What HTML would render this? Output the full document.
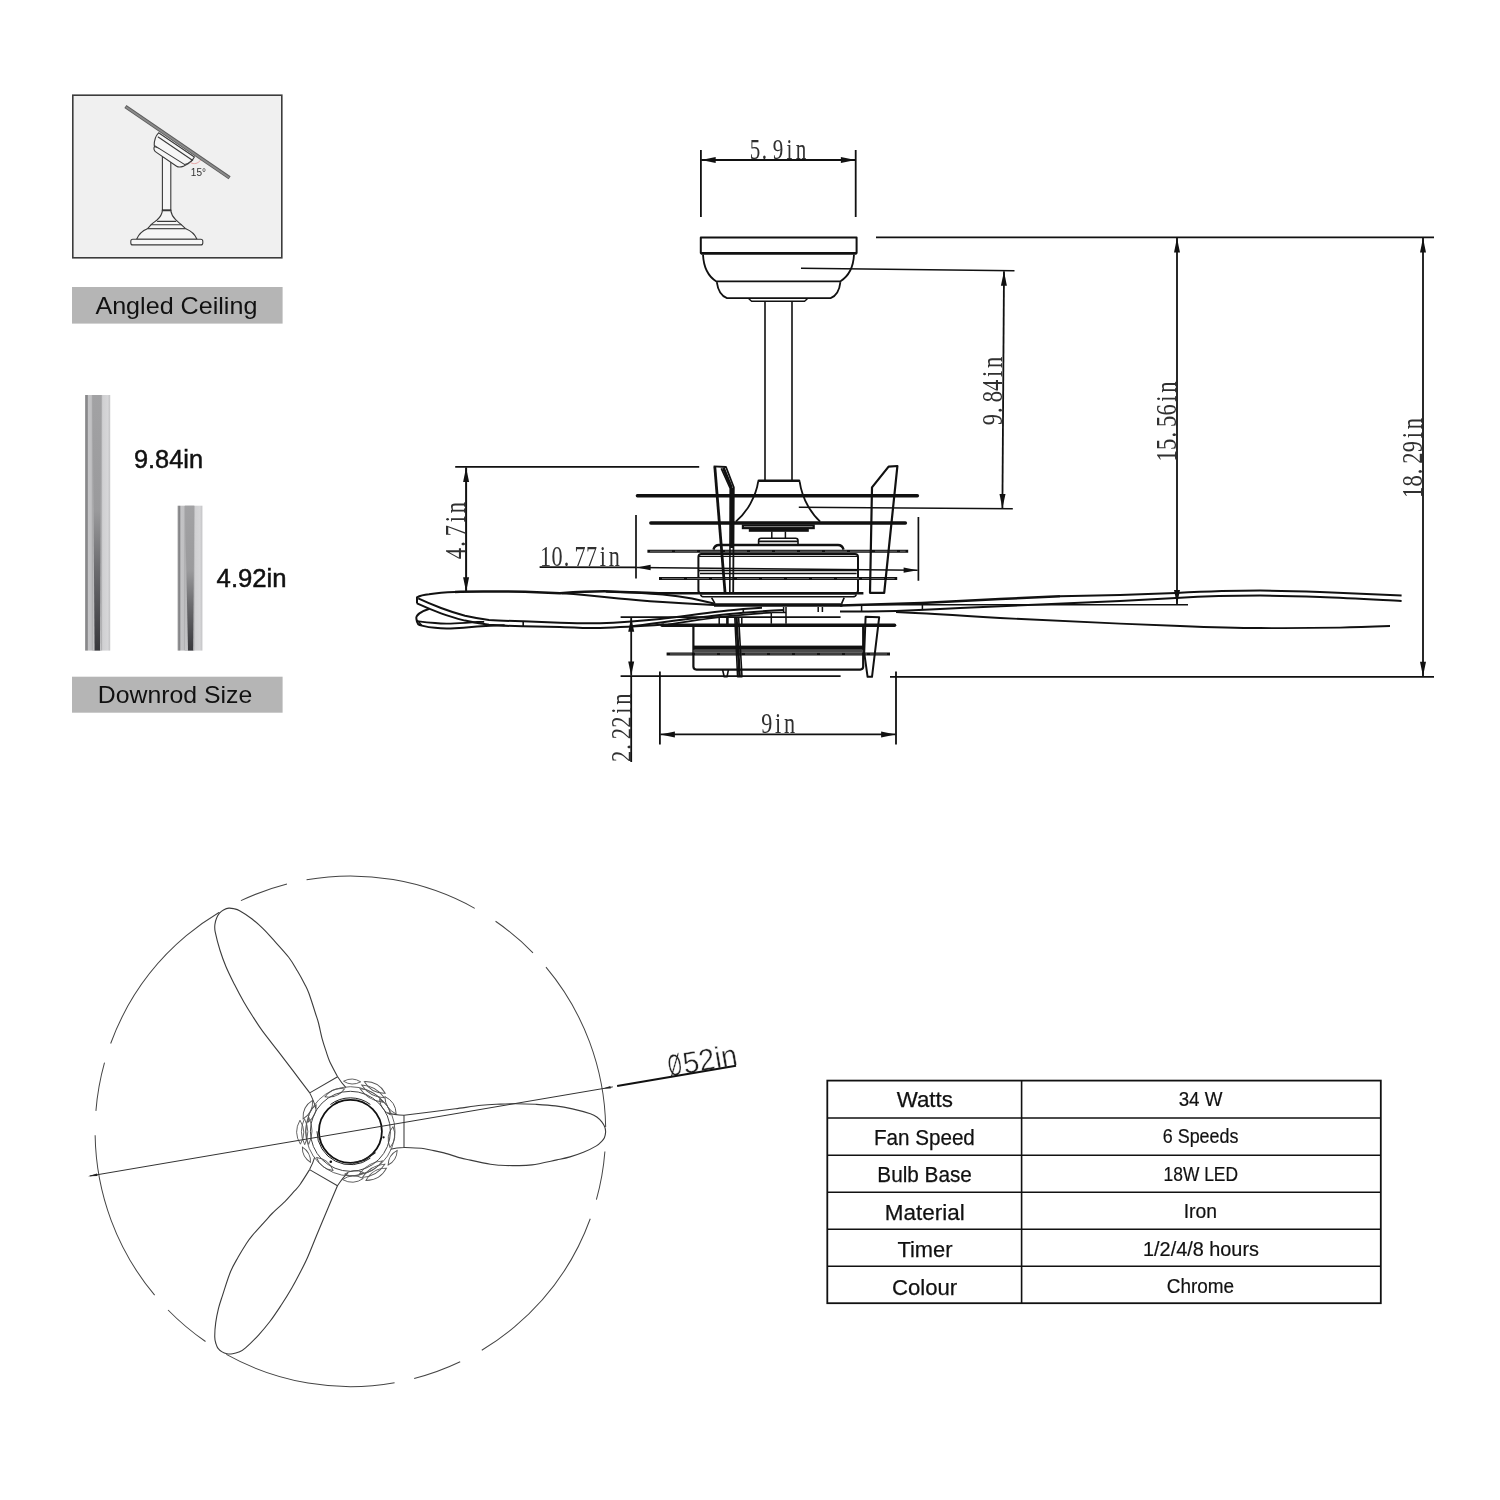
<!DOCTYPE html>
<html>
<head>
<meta charset="utf-8">
<title>Ceiling fan dimensions</title>
<style>
html,body{margin:0;padding:0;background:#fff;}
body{width:1500px;height:1500px;overflow:hidden;font-family:"Liberation Sans",sans-serif;}
svg{display:block;position:absolute;left:0;top:0;will-change:transform;}
.k{stroke:#111;fill:none;stroke-linecap:butt;stroke-linejoin:round;}
.w{stroke:#111;fill:#fff;stroke-linecap:butt;stroke-linejoin:round;}
.cad{font-family:"Liberation Serif",serif;fill:#303030;}
.ui{font-family:"Liberation Sans",sans-serif;fill:#111;}
</style>
</head>
<body>
<svg width="1500" height="1500" viewBox="0 0 1500 1500">
<defs>
<linearGradient id="rod" x1="0" x2="1" y1="0" y2="0">
<stop offset="0" stop-color="#a2a2a3"/>
<stop offset="0.05" stop-color="#8a8a8c"/>
<stop offset="0.09" stop-color="#848486"/>
<stop offset="0.13" stop-color="#c4c4c6"/>
<stop offset="0.25" stop-color="#c0c0c2"/>
<stop offset="0.30" stop-color="#a6a6a8"/>
<stop offset="0.64" stop-color="#a2a2a4"/>
<stop offset="0.70" stop-color="#d0d0d2"/>
<stop offset="0.90" stop-color="#d6d6d8"/>
<stop offset="1" stop-color="#c3c3c5"/>
</linearGradient>
<linearGradient id="rodw" x1="0" x2="0" y1="0" y2="1">
<stop offset="0" stop-color="#a2a2a4"/>
<stop offset="0.45" stop-color="#9a9a9c"/>
<stop offset="0.68" stop-color="#6c6c6f"/>
<stop offset="1" stop-color="#38383c"/>
</linearGradient>
<linearGradient id="rodl" x1="0" x2="0" y1="0" y2="1">
<stop offset="0" stop-color="#a4a4a6" stop-opacity="0"/>
<stop offset="0.45" stop-color="#bcbcbe" stop-opacity="0.6"/>
<stop offset="1" stop-color="#c4c4c6" stop-opacity="1"/>
</linearGradient>
</defs>
<!-- ===== LEFT PANEL ===== -->
<g id="left-panel">
<rect x="72.8" y="95.2" width="209" height="162.6" fill="#f0f0f0" stroke="#3c3c3c" stroke-width="1.6"/>
<rect x="72" y="287" width="210.6" height="36.6" fill="#b5b5b5"/>
<text class="ui" x="176.4" y="314.4" font-size="24.5" text-anchor="middle" textLength="162" lengthAdjust="spacingAndGlyphs">Angled Ceiling</text>
<rect x="85" y="395" width="25.2" height="255.6" fill="url(#rod)"/>
<rect x="92.6" y="395" width="8.6" height="255.6" fill="url(#rodl)"/>
<polygon points="92.6,395 101.2,395 100,650.6 94.6,650.6" fill="url(#rodw)"/>
<rect x="177.6" y="505.7" width="24.8" height="144.9" fill="url(#rod)"/>
<rect x="185" y="505.7" width="9.3" height="144.9" fill="url(#rodl)"/>
<polygon points="185,505.7 194.3,505.7 193.2,650.6 188,650.6" fill="url(#rodw)"/>
<text class="ui" x="134" y="467.7" font-size="25.5" textLength="69" lengthAdjust="spacingAndGlyphs" stroke="#111" stroke-width="0.5">9.84in</text>
<text class="ui" x="216.6" y="587" font-size="25.5" textLength="70" lengthAdjust="spacingAndGlyphs" stroke="#111" stroke-width="0.5">4.92in</text>
<rect x="72" y="676.7" width="210.6" height="36" fill="#b5b5b5"/>
<text class="ui" x="175" y="703.4" font-size="24.5" text-anchor="middle" textLength="154.5" lengthAdjust="spacingAndGlyphs">Downrod Size</text>
</g>
<!-- ===== ANGLED CEILING ILLUSTRATION ===== -->
<g id="angled" fill="#f6f6f6" stroke="#3a3a3a" stroke-width="1.1" stroke-linejoin="round" stroke-linecap="round">
<!-- rod -->
<path d="M162.4 156V210.2H170.8V161.6Z"/>
<!-- canopy lower cup -->
<path d="M154.4 146.4C153.4 148.6 153.6 150.4 156.4 152.4L176.6 166.2C178.4 167.4 180.4 167.2 183 166.4C187 165 190.4 162.6 192.8 160Z"/>
<!-- canopy upper body -->
<path d="M158.6 132.8C155.8 135.6 154.2 140 154.2 145.4L184.8 164.6C188.6 163.4 192.4 160.6 194.4 157Z"/>
<path fill="none" d="M158.2 137L192 160"/>
<!-- ceiling bar -->
<path fill="none" stroke="#5c5c5c" stroke-width="3.6" stroke-linecap="butt" d="M125.4 106.6L229.6 177.8"/>
<path fill="none" stroke="#8a8a8a" stroke-width="1.8" stroke-linecap="butt" d="M126 107L229 177.4"/>
<!-- angle arc + label -->
<path fill="none" stroke="#e8a3a3" stroke-width="1" d="M191 162.8C194 164.6 198 163.6 200.4 160.4"/>
<!-- motor bell -->
<path stroke="#222" stroke-width="1.4" fill="none" d="M162.4 210.2H170.8"/>
<path d="M162.4 210.6C162 214 160 217.4 157 220C155 221.6 153.4 222.6 151.4 224.4L147.4 228.8H185.8L181 224.4C179 222.6 177.4 221.4 175.6 219.6C173 217 171.2 213.6 170.8 210.6Z"/>
<path fill="none" d="M157.6 221.4H175.8M151.2 224.8H181.2"/>
<path d="M147.4 228.8C142 231 138.6 234.6 136.6 239.2H197C195 234.6 191.4 231 185.8 228.8Z"/>
<rect x="130.8" y="239.3" width="72" height="5.6" rx="2"/>
</g>
<text x="190.8" y="176.2" font-family="Liberation Sans, sans-serif" font-size="10.6" fill="#333" textLength="15.2" lengthAdjust="spacingAndGlyphs">15°</text>
<!-- ===== SPEC TABLE ===== -->
<g id="table">
<rect x="827.3" y="1080.6" width="553.5" height="222.6" fill="#fff" stroke="#111" stroke-width="1.8"/>
<path class="k" stroke-width="1.6" d="M1021.6 1080.6V1303.2M827.3 1118H1380.8M827.3 1155.2H1380.8M827.3 1192.2H1380.8M827.3 1229.2H1380.8M827.3 1266.3H1380.8"/>
<g class="ui" font-size="22" text-anchor="middle" stroke="#111" stroke-width="0.25">
<text x="924.8" y="1107.2" textLength="56.3" lengthAdjust="spacingAndGlyphs">Watts</text>
<text x="924.4" y="1144.6" textLength="100.9" lengthAdjust="spacingAndGlyphs">Fan Speed</text>
<text x="924.6" y="1182" textLength="94.6" lengthAdjust="spacingAndGlyphs">Bulb Base</text>
<text x="924.8" y="1219.5" textLength="79.9" lengthAdjust="spacingAndGlyphs">Material</text>
<text x="925" y="1257" textLength="55.1" lengthAdjust="spacingAndGlyphs">Timer</text>
<text x="924.6" y="1294.5" textLength="65.2" lengthAdjust="spacingAndGlyphs">Colour</text>
</g>
<g class="ui" font-size="19.5" text-anchor="middle" stroke="#111" stroke-width="0.2">
<text x="1200.6" y="1105.8" textLength="43.8" lengthAdjust="spacingAndGlyphs">34 W</text>
<text x="1200.6" y="1143.2" textLength="75.7" lengthAdjust="spacingAndGlyphs">6 Speeds</text>
<text x="1200.8" y="1180.6" textLength="74.5" lengthAdjust="spacingAndGlyphs">18W LED</text>
<text x="1200.4" y="1218" textLength="33.3" lengthAdjust="spacingAndGlyphs">Iron</text>
<text x="1201" y="1255.5" textLength="115.9" lengthAdjust="spacingAndGlyphs">1/2/4/8 hours</text>
<text x="1200.5" y="1293" textLength="67.3" lengthAdjust="spacingAndGlyphs">Chrome</text>
</g>
</g>
<g id="dims"><path class="k" stroke-width="1.8" d="M700.9 150V217M855.7 150V217"/>
<line class="k" stroke-width="1.8" x1="701.2" y1="160.0" x2="855.4" y2="160.0"/><polygon fill="#111" points="701.2,160.0 715.7,157.0 715.7,163.0"/><polygon fill="#111" points="855.4,160.0 840.9,163.0 840.9,157.0"/>
<text class="cad" font-size="28.5" x="-38.07 -21.86 -7.13 11.51 23.82" y="0" transform="translate(778.0 158.8) scale(0.74 1)">5.9in</text>
<path class="k" stroke-width="1.8" d="M876 237.3H1434"/>
<path class="k" stroke-width="1.5" d="M801 268.3L1014.5 270.8M798.8 507.2L1012.8 508.8"/>
<line class="k" stroke-width="1.8" x1="1004.0" y1="271.2" x2="1002.4" y2="508.4"/><polygon fill="#111" points="1004.0,271.2 1006.9,285.7 1000.9,285.7"/><polygon fill="#111" points="1002.4,508.4 999.5,493.9 1005.5,493.9"/>
<text class="cad" font-size="30.5" x="-46.31 -29.59 -15.36 0.11 18.97 31.06" y="0" transform="translate(1002.0 391.0) rotate(-90) scale(0.74 1)">9.84in</text>
<line class="k" stroke-width="1.8" x1="1177.0" y1="238.0" x2="1177.0" y2="604.6"/><polygon fill="#111" points="1177.0,238.0 1180.0,252.5 1174.0,252.5"/><polygon fill="#111" points="1177.0,604.6 1174.0,590.1 1180.0,590.1"/>
<text class="cad" font-size="30.5" x="-54.04 -38.57 -21.86 -7.63 7.85 26.71 38.79" y="0" transform="translate(1175.6 421.4) rotate(-90) scale(0.74 1)">15.56in</text>
<line class="k" stroke-width="1.8" x1="1423.0" y1="238.0" x2="1423.0" y2="676.2"/><polygon fill="#111" points="1423.0,238.0 1426.0,252.5 1420.0,252.5"/><polygon fill="#111" points="1423.0,676.2 1420.0,661.7 1426.0,661.7"/>
<text class="cad" font-size="30.5" x="-54.04 -38.57 -21.86 -7.63 7.85 26.71 38.79" y="0" transform="translate(1421.8 458.0) rotate(-90) scale(0.74 1)">18.29in</text>
<path class="k" stroke-width="1.8" d="M890 676.8H1434"/>
<path class="k" stroke-width="1.8" d="M455.2 466.8H699.2"/>
<line class="k" stroke-width="2" x1="466.1" y1="467.4" x2="466.1" y2="591.8"/><polygon fill="#111" points="466.1,467.4 469.1,481.9 463.1,481.9"/><polygon fill="#111" points="466.1,591.8 463.1,577.3 469.1,577.3"/>
<text class="cad" font-size="30.5" x="-38.57 -21.86 -7.63 11.23 23.32" y="0" transform="translate(464.8 530.6) rotate(-90) scale(0.74 1)">4.7in</text>
<path class="k" stroke-width="1.7" d="M636 515V578.4M918.4 517V580.8"/>
<path class="k" stroke-width="1.7" d="M539.6 567.2L636 567.3"/>
<line class="k" stroke-width="1.5" x1="636.6" y1="567.4" x2="917.6" y2="570.2"/><polygon fill="#111" points="636.6,567.4 650.6,564.8 650.6,570.2"/><polygon fill="#111" points="917.6,570.2 903.6,572.8 903.6,567.4"/>
<text class="cad" font-size="30" x="-53.92 -38.45 -21.86 -7.50 7.97 26.78 38.92" y="0" transform="translate(580.0 566.2) scale(0.74 1)">10.77in</text>
<path class="k" stroke-width="1.8" d="M620.6 617.2H840.6M620.6 676.2H840.6"/>
<path class="k" stroke-width="1.8" d="M631.2 676V762"/>
<line class="k" stroke-width="1.8" x1="631.2" y1="617.8" x2="631.2" y2="675.6"/><polygon fill="#111" points="631.2,617.8 634.2,631.8 628.2,631.8"/><polygon fill="#111" points="631.2,675.6 628.2,661.6 634.2,661.6"/>
<text class="cad" font-size="30.5" x="-46.31 -29.59 -15.36 0.11 18.97 31.06" y="0" transform="translate(630.6 727.8) rotate(-90) scale(0.74 1)">2.22in</text>
<path class="k" stroke-width="1.8" d="M659.9 671.4V744.6M896 671.4V744.6"/>
<line class="k" stroke-width="1.8" x1="660.4" y1="734.4" x2="895.6" y2="734.4"/><polygon fill="#111" points="660.4,734.4 674.9,731.4 674.9,737.4"/><polygon fill="#111" points="895.6,734.4 881.1,737.4 881.1,731.4"/>
<text class="cad" font-size="30" x="-22.97 -4.17 7.97" y="0" transform="translate(778.2 733.0) scale(0.74 1)">9in</text></g><!-- ===== FAN SIDE VIEW ===== -->
<g id="fanside" class="k">
<!-- canopy -->
<path stroke-width="2" d="M700.8 237.4H856.6V253H700.8Z"/>
<path stroke-width="2.8" d="M700.8 253.4H856.6"/>
<path stroke-width="1.8" d="M703 254.6C703.6 267 708.6 276.6 716.4 281.4H840.2C848 276.6 853.4 267 854 254.6"/>
<path stroke-width="1.8" d="M716.8 282.2C718 291 721.6 296.2 727 298.2H830.6C836 296.2 839.4 291 840.4 282.2"/>
<path stroke-width="1.5" d="M748.8 298.8L751.6 301.2H804.6L807.4 298.8"/>
<!-- down rod -->
<path stroke-width="1.6" d="M765 301.4V480M792 301.4V480"/>
<!-- bell coupling -->
<path stroke-width="2.6" stroke-linecap="round" d="M758.8 480.8H799"/>
<path stroke-width="1.8" d="M758.2 481.4C757 490 754 497 750.4 503.6C746.6 510.6 741.6 516.6 735.8 521.6"/>
<path stroke-width="1.8" d="M799.6 481.4C801 491 804 499 808 506C811.4 512 815.4 517.4 820.2 521.6"/>
<rect x="741.8" y="524.4" width="73" height="4.8" fill="#111" stroke="none"/>
<path stroke="#bbb" stroke-width="0.7" d="M744 526.6H812.6"/>
<rect x="748.8" y="529" width="60" height="2.8" fill="#111" stroke="none"/>
<path stroke-width="1.5" d="M771.8 531.6V538.2M785.4 531.6V538.2"/>
<path stroke-width="1.6" d="M758.6 544.4V540.6Q758.6 538.2 761 538.2H795.6Q798 538.2 798 540.6V544.4M759 541.4H797.6"/>
<!-- motor housing -->
<path stroke-width="2.4" d="M713.4 549.6C714.4 546.4 716 545 719 545H838C841 545 842.6 546.4 843.6 549.6"/>
<path stroke-width="2" d="M701.4 554H855A3 3 0 0 1 858 557V590.4A3 3 0 0 1 855 593.4H701.4A3 3 0 0 1 698.4 590.4V557A3 3 0 0 1 701.4 554Z"/>
<path stroke-width="1.2" d="M699 556.4H857.4"/>
<path stroke-width="1.6" d="M698.6 570.5H857.8M700 573.5H856.6"/>
<path stroke-width="2.6" d="M699 593.2H863.4"/>
<path stroke-width="1.5" d="M700.4 594.4C701 596 702 596.8 704 596.8H852.6C854.6 596.8 855.8 596 856.4 594.4"/>
<path stroke-width="1.6" d="M711.6 597.6L715 603.6M844.2 597.6L841.6 603.6"/>
<path stroke-width="3.4" d="M714 605H842.4"/>
<!-- cage rings -->
<path stroke-width="3.4" stroke-linecap="round" d="M637.4 495.8H917.4"/>
<path stroke-width="3.4" stroke-linecap="round" d="M650.8 523H905.4"/>
<path stroke-width="3" d="M647.4 551.2H908.2M659 578.6H897.2M666.6 654H890"/>
<path stroke="#aaa" stroke-width="0.6" stroke-dasharray="22 3" d="M650 551.2H905.6M662 578.6H894.6M670 654H887"/>
<path stroke-width="3.4" stroke-linecap="round" d="M662 625.2H894.6"/>
<!-- left bracket -->
<path stroke-width="2.8" d="M714.8 466.6L725 592"/>
<path stroke-width="1.8" d="M713.6 466.4L726 467L733.8 487.2L733.2 592"/>
<path stroke-width="3" d="M723.4 468L731.6 488"/>
<path stroke-width="1.6" d="M721.2 468.4L730.2 488.4L729.8 592"/>
<path stroke-width="3.4" d="M731.8 488V548"/>
<!-- right bracket -->
<path stroke-width="2.2" d="M888.6 466.6L897.4 466L884.2 592.8H870L872 487.4Z"/>
<!-- stem between motor and light kit -->
<path stroke-width="1.5" d="M771.3 612.6V623.8M786 607V623.8M783.6 607V612.6M771.3 612.6H786M818.2 607V612M822.4 607V612"/>
<path stroke-width="1.5" d="M719.2 617.4V624M741.8 617.4V624"/>
<path stroke-width="2.6" d="M727.4 617.4V624"/>
<!-- light kit -->
<path stroke-width="2.2" d="M693.4 626.4V666.6A3 3 0 0 0 696.4 669.6H860.2A3 3 0 0 0 863.2 666.6V626.4"/>
<rect x="693.4" y="645.6" width="169.8" height="4.2" fill="#111" stroke="none"/>
<rect x="693.4" y="649.8" width="169.8" height="2.8" fill="#4a4a4a" stroke="none"/>
<!-- lower left tab -->
<path stroke-width="2.6" d="M736.4 617.2L739.6 676.4"/>
<path stroke-width="1.6" d="M734.8 617.2L737.6 676.8H742L738.6 617.2"/>
<path stroke-width="1.6" d="M722.6 669.8L724.2 676.8H727L728.4 669.8"/>
<!-- lower right wedge -->
<path stroke-width="2" d="M865.6 616.8L879.2 617.2L872 676.8H867.6L864.2 652.6Z"/>
</g>
<!-- ===== SIDE VIEW BLADES ===== -->
<g id="blades-side" class="k" stroke-linecap="round">
<!-- left blade: top outline -->
<path stroke-width="2" d="M417 603.4V597.4C420 595.6 424 594.6 429 594.2C438 592.8 447 592.2 455 591.9"/>
<path stroke-width="2.5" d="M455 591.9C470 591.1 500 591.4 525 591.8C540 592.3 550 592.9 560 593.2C578 592 594 591.2 608.4 591.4C630 591.8 646 593 662.7 593.3H699"/>
<!-- back edges running into plate -->
<path stroke-width="2" d="M606 591.6C630 592 648 593.2 662.7 594.4C676 595.6 686 597.4 692 598.6L714 603.6"/>
<path stroke-width="2" d="M562 593.2C582 594.4 602 596.6 618.7 598.5C636 600.2 650 601.2 662.7 602.1C680 603.2 696 604 714 605"/>
<!-- front edge double line -->
<path stroke-width="2" d="M417 603.4C424 606.6 432 610 441 613.4C449 616.4 457 618.6 465 620.6C473 622.4 481 623.8 489 624.8C500 625.8 512 626 523.2 626.2C540 626.6 550 626.8 560 627C575 627.6 588 628.2 600 628C620 627.4 640 626.2 664 624.6"/>
<path stroke-width="2" d="M418.2 598.4C425 601.6 433 605 441 608C449 611 457 613.6 465 615.8C473 617.6 481 619 489 620C500 620.8 512 621 523.2 621.2C540 621.8 550 622.4 560 622.7C575 623.2 588 623.6 600 623.2C620 622.6 640 621 660 619C690 615.4 718 611.2 743.3 609L762 607.8"/>
<path stroke-width="1.6" d="M523.2 621.2V626.2M743.3 609V612.8"/>
<path stroke-width="2" d="M630.4 626.6C660 623 700 616.6 743.3 612.8C760 611.4 772 610.6 784 610"/>
<path stroke-width="1.8" d="M668 624.6C690 621 712 617.4 736.7 615.3C750 614 760 613.2 771.3 612.7"/>
<!-- second blade lobe behind -->
<path stroke-width="2" d="M429.4 608.8C425 610.2 421.6 611.8 419.4 613.4C416.8 615.4 416 617 416.4 618.8C416.6 621 417.2 622.8 418.2 624.2C419 625 420.2 625.4 421.8 625.6C426 626.6 430 627.4 435 627.8C440 628.4 445 628.6 450.6 628.4C460 628.2 468 627.6 477 626.6C486 625.8 496 625.4 504.6 625.3"/>
<path stroke-width="1.8" d="M416.6 620.6C417.2 621 417.8 621.2 418.6 621.3C424 622.2 430 622.8 435 623C440 623.6 446 623.8 450.6 623.6C460 623.2 468 622.6 477 622C480 621.8 482 621.8 484.2 621.8"/>
<path stroke-width="1.5" d="M418.4 621.2C419.4 622.8 420.4 624.2 421.8 625.6"/>
<!-- right blade -->
<path stroke-width="2.5" d="M840 605.6C870 604.8 896 603.8 922 603C950 601.6 975 600.2 1000 599C1020 597.9 1040 597 1060 596.2"/>
<path stroke-width="2" d="M1060 596.2C1090 595.6 1105 595.3 1120 595C1140 594.2 1158 593.6 1176 593C1205 591.6 1235 590.6 1260 590.6C1282 590.8 1302 591.4 1320 592C1350 593.2 1378 594.6 1401.6 595.6"/>
<path stroke-width="2" d="M840 611.6C860 611.6 878 611.4 896 611C918 610.2 940 609.2 960 608C988 606.6 1014 605.4 1040 604.4C1068 603 1094 602 1120 601C1140 600 1158 599 1176 598C1205 596.4 1235 595.6 1260 595.6C1282 595.8 1302 596.4 1320 597C1350 598.2 1378 599.8 1401.6 601"/>
<path stroke-width="1.8" d="M896 612C930 613.6 965 615.8 1000 618C1040 620.2 1080 622 1120 623.6C1140 624.4 1160 625.2 1180 626C1210 627.2 1236 628 1260 628C1290 628.2 1316 628 1340 627.6C1358 627.2 1374 626.6 1390 626"/>
<path stroke-width="1.5" d="M861.6 604.4V612M922.4 603V610"/>
<path stroke-width="1.6" d="M860 604.8H1188"/>
</g>
<!-- ===== BOTTOM VIEW ===== -->
<g id="bottomview" fill="none" stroke="#3c3c3c" stroke-width="1.05" stroke-linecap="butt">
<circle cx="350.4" cy="1131.3" r="255.3" stroke-dasharray="173.8 24.5 49 20.05" transform="rotate(-40 350.4 1131.3)" stroke="#444" stroke-width="1"/>
<g transform="translate(350.4 1131.3)">
<g transform="rotate(0)">
<path stroke-width="1.1" d="M53.6 -16.0C58.0 -16.6 71.4 -18.2 80.0 -19.3C88.6 -20.4 96.5 -21.4 105.0 -22.5C113.5 -23.6 123.5 -25.2 131.0 -26.0C138.5 -26.8 144.3 -26.9 150.0 -27.2C155.7 -27.5 159.2 -27.6 165.0 -27.6C170.8 -27.6 178.3 -27.4 185.0 -27.0C191.7 -26.6 198.8 -26.2 205.0 -25.4C211.2 -24.6 216.2 -23.7 222.0 -22.4C227.8 -21.1 235.8 -18.9 240.0 -17.5C244.2 -16.1 245.1 -15.2 247.0 -13.8C248.9 -12.4 250.4 -10.8 251.6 -9.2C252.8 -7.6 253.8 -6.0 254.4 -4.3C255.0 -2.6 255.3 -1.0 255.2 0.8C255.1 2.6 254.7 4.8 254.0 6.4C253.3 8.0 252.3 9.0 251.0 10.4C249.7 11.8 249.0 12.8 246.0 14.6C243.0 16.4 237.4 19.2 233.0 21.0C228.6 22.8 224.0 24.3 219.6 25.6C215.2 26.9 212.8 27.3 206.5 28.6C200.2 29.9 188.5 32.7 181.6 33.6C174.7 34.5 170.3 34.2 165.0 34.3C159.7 34.4 154.2 34.2 150.0 34.0C145.8 33.8 145.0 33.9 140.0 33.0C135.0 32.1 125.0 29.9 120.0 28.8C115.0 27.7 114.4 27.8 110.0 26.6C105.6 25.4 98.5 22.9 93.6 21.6C88.6 20.3 84.1 19.5 80.3 18.7C76.5 17.9 75.4 17.4 70.9 17.0C66.5 16.6 56.5 16.3 53.6 16.2"/>
<path d="M53.6 -16C47 -16.4 42 -17 36.9 -18.6M53.6 16.2C48 16.4 44 17 40 18M53.6 -16V16.2"/>
<g stroke="#555" stroke-width="0.9"><path transform="rotate(-88.0) translate(49.8 0)" d="M0 -8.6Q5.0 0 0 8.6Q-5.0 0 0 -8.6Z"/><path transform="rotate(-61.0) translate(50.2 0)" d="M0 -12.0Q7.2 0 0 12.0Q-7.2 0 0 -12.0Z"/><path transform="rotate(-60.5) translate(45.8 0)" d="M0 -13.0Q6.4 0 0 13.0Q-6.4 0 0 -13.0Z"/><path transform="rotate(-59.5) translate(41.6 0)" d="M0 -13.5Q6.4 0 0 13.5Q-6.4 0 0 -13.5Z"/><path transform="rotate(-33.0) translate(47.8 0)" d="M0 -10.4Q6.4 0 0 10.4Q-6.4 0 0 -10.4Z"/><path transform="rotate(-35.0) translate(42.2 0)" d="M0 -9.5Q5.2 0 0 9.5Q-5.2 0 0 -9.5Z"/><path transform="rotate(8.0) translate(41.5 0)" d="M0 -10.6Q6.4 0 0 10.6Q-6.4 0 0 -10.6Z"/></g>
</g>
<g transform="rotate(-120)">
<path stroke-width="1.1" d="M53.6 -16.0C58.0 -16.6 71.4 -18.2 80.0 -19.3C88.6 -20.4 96.5 -21.4 105.0 -22.5C113.5 -23.6 123.5 -25.2 131.0 -26.0C138.5 -26.8 144.3 -26.9 150.0 -27.2C155.7 -27.5 159.2 -27.6 165.0 -27.6C170.8 -27.6 178.3 -27.4 185.0 -27.0C191.7 -26.6 198.8 -26.2 205.0 -25.4C211.2 -24.6 216.2 -23.7 222.0 -22.4C227.8 -21.1 235.8 -18.9 240.0 -17.5C244.2 -16.1 245.1 -15.2 247.0 -13.8C248.9 -12.4 250.4 -10.8 251.6 -9.2C252.8 -7.6 253.8 -6.0 254.4 -4.3C255.0 -2.6 255.3 -1.0 255.2 0.8C255.1 2.6 254.7 4.8 254.0 6.4C253.3 8.0 252.3 9.0 251.0 10.4C249.7 11.8 249.0 12.8 246.0 14.6C243.0 16.4 237.4 19.2 233.0 21.0C228.6 22.8 224.0 24.3 219.6 25.6C215.2 26.9 212.8 27.3 206.5 28.6C200.2 29.9 188.5 32.7 181.6 33.6C174.7 34.5 170.3 34.2 165.0 34.3C159.7 34.4 154.2 34.2 150.0 34.0C145.8 33.8 145.0 33.9 140.0 33.0C135.0 32.1 125.0 29.9 120.0 28.8C115.0 27.7 114.4 27.8 110.0 26.6C105.6 25.4 98.5 22.9 93.6 21.6C88.6 20.3 84.1 19.5 80.3 18.7C76.5 17.9 75.4 17.4 70.9 17.0C66.5 16.6 56.5 16.3 53.6 16.2"/>
<path d="M53.6 -16C47 -16.4 42 -17 36.9 -18.6M53.6 16.2C48 16.4 44 17 40 18M53.6 -16V16.2"/>
<g stroke="#555" stroke-width="0.9"><path transform="rotate(-88.0) translate(49.8 0)" d="M0 -8.6Q5.0 0 0 8.6Q-5.0 0 0 -8.6Z"/><path transform="rotate(-61.0) translate(50.2 0)" d="M0 -12.0Q7.2 0 0 12.0Q-7.2 0 0 -12.0Z"/><path transform="rotate(-60.5) translate(45.8 0)" d="M0 -13.0Q6.4 0 0 13.0Q-6.4 0 0 -13.0Z"/><path transform="rotate(-59.5) translate(41.6 0)" d="M0 -13.5Q6.4 0 0 13.5Q-6.4 0 0 -13.5Z"/><path transform="rotate(-33.0) translate(47.8 0)" d="M0 -10.4Q6.4 0 0 10.4Q-6.4 0 0 -10.4Z"/><path transform="rotate(-35.0) translate(42.2 0)" d="M0 -9.5Q5.2 0 0 9.5Q-5.2 0 0 -9.5Z"/><path transform="rotate(8.0) translate(41.5 0)" d="M0 -10.6Q6.4 0 0 10.6Q-6.4 0 0 -10.6Z"/></g>
</g>
<g transform="rotate(120)">
<path stroke-width="1.1" d="M53.6 -16.0C58.0 -16.6 71.4 -18.2 80.0 -19.3C88.6 -20.4 96.5 -21.4 105.0 -22.5C113.5 -23.6 123.5 -25.2 131.0 -26.0C138.5 -26.8 144.3 -26.9 150.0 -27.2C155.7 -27.5 159.2 -27.6 165.0 -27.6C170.8 -27.6 178.3 -27.4 185.0 -27.0C191.7 -26.6 198.8 -26.2 205.0 -25.4C211.2 -24.6 216.2 -23.7 222.0 -22.4C227.8 -21.1 235.8 -18.9 240.0 -17.5C244.2 -16.1 245.1 -15.2 247.0 -13.8C248.9 -12.4 250.4 -10.8 251.6 -9.2C252.8 -7.6 253.8 -6.0 254.4 -4.3C255.0 -2.6 255.3 -1.0 255.2 0.8C255.1 2.6 254.7 4.8 254.0 6.4C253.3 8.0 252.3 9.0 251.0 10.4C249.7 11.8 249.0 12.8 246.0 14.6C243.0 16.4 237.4 19.2 233.0 21.0C228.6 22.8 224.0 24.3 219.6 25.6C215.2 26.9 212.8 27.3 206.5 28.6C200.2 29.9 188.5 32.7 181.6 33.6C174.7 34.5 170.3 34.2 165.0 34.3C159.7 34.4 154.2 34.2 150.0 34.0C145.8 33.8 145.0 33.9 140.0 33.0C135.0 32.1 125.0 29.9 120.0 28.8C115.0 27.7 114.4 27.8 110.0 26.6C105.6 25.4 98.5 22.9 93.6 21.6C88.6 20.3 84.1 19.5 80.3 18.7C76.5 17.9 75.4 17.4 70.9 17.0C66.5 16.6 56.5 16.3 53.6 16.2"/>
<path d="M53.6 -16C47 -16.4 42 -17 36.9 -18.6M53.6 16.2C48 16.4 44 17 40 18M53.6 -16V16.2"/>
<g stroke="#555" stroke-width="0.9"><path transform="rotate(-88.0) translate(49.8 0)" d="M0 -8.6Q5.0 0 0 8.6Q-5.0 0 0 -8.6Z"/><path transform="rotate(-61.0) translate(50.2 0)" d="M0 -12.0Q7.2 0 0 12.0Q-7.2 0 0 -12.0Z"/><path transform="rotate(-60.5) translate(45.8 0)" d="M0 -13.0Q6.4 0 0 13.0Q-6.4 0 0 -13.0Z"/><path transform="rotate(-59.5) translate(41.6 0)" d="M0 -13.5Q6.4 0 0 13.5Q-6.4 0 0 -13.5Z"/><path transform="rotate(-33.0) translate(47.8 0)" d="M0 -10.4Q6.4 0 0 10.4Q-6.4 0 0 -10.4Z"/><path transform="rotate(-35.0) translate(42.2 0)" d="M0 -9.5Q5.2 0 0 9.5Q-5.2 0 0 -9.5Z"/><path transform="rotate(8.0) translate(41.5 0)" d="M0 -10.6Q6.4 0 0 10.6Q-6.4 0 0 -10.6Z"/></g>
</g>
<circle r="31.5" stroke="#111" stroke-width="1.8"/>
<path stroke="#222" stroke-width="1" d="M-33.4 0A33.4 33.4 0 0 0 20 26.8M-20 -26.8A33.4 33.4 0 0 1 20 -26.8"/>
<circle r="40" stroke="#444" stroke-width="1"/>
<circle r="44.6" stroke="#555" stroke-width="0.9"/>
<path stroke="#222" stroke-width="1.6" d="M2.5 31.6L14 28.6L25 21"/>
<circle cx="-13.8" cy="-28.6" r="1.1" fill="#111" stroke="none"/><circle cx="-19.6" cy="30.4" r="1.3" fill="#111" stroke="none"/><circle cx="33.2" cy="6" r="1.1" fill="#111" stroke="none"/>
</g>
<path stroke="#333" stroke-width="1" d="M89.8 1176L612.8 1086.9"/>
<polygon fill="#222" stroke="none" points="88,1176.3 97,1173.4 97.5,1176.1"/>
<polygon fill="#222" stroke="none" points="603.2,1088.5 610.3,1086.0 610.8,1088.5"/>
<g transform="translate(668.4 1076.8) rotate(-9.67)" font-family="Liberation Sans, sans-serif" font-size="30.5" fill="#222" stroke="#fff" stroke-width="0.45"><text x="1.4" y="0" textLength="13.8" lengthAdjust="spacingAndGlyphs">Ø</text><text x="16.6" y="0" textLength="54.6" lengthAdjust="spacingAndGlyphs">52in</text></g>
<path stroke="#111" stroke-width="2.1" d="M617.1 1086L736 1065.7"/>
</g>
</svg>
</body>
</html>
